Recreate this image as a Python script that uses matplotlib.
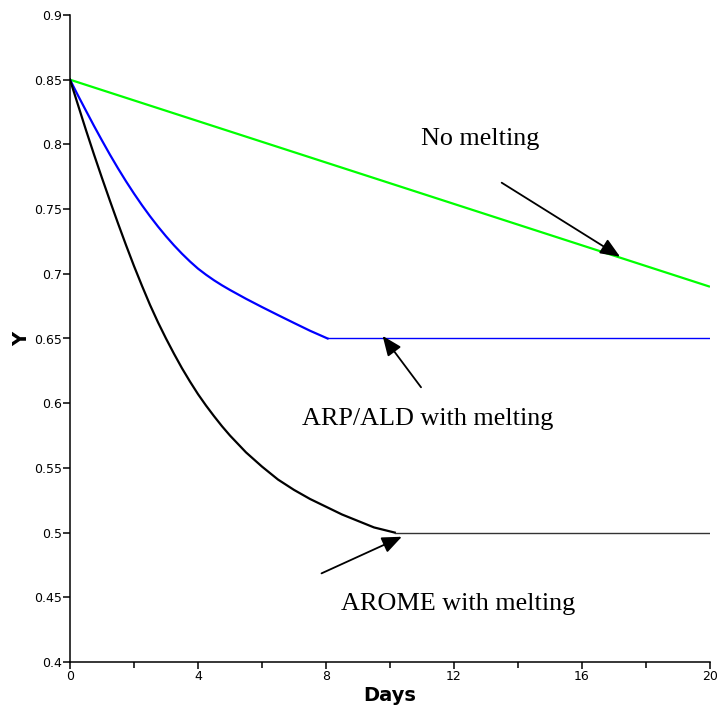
import matplotlib
matplotlib.use("Agg")
import matplotlib.pyplot as plt
from matplotlib.ticker import FixedLocator, FixedFormatter

# Surface albedo evolution over 20 days
days_no_melt = [0, 20]
y_no_melt = [0.85, 0.69]

days_arp = [0, 0.25, 0.5, 0.75, 1, 1.25, 1.5, 1.75, 2, 2.25, 2.5, 2.75, 3, 3.25,
            3.5, 3.75, 4, 4.25, 4.5, 4.75, 5, 5.5, 6, 6.5, 7, 7.5, 8.05, 20]
y_arp = [0.850, 0.8378, 0.826, 0.8143, 0.803, 0.7920, 0.7815, 0.7715, 0.762,
         0.7530, 0.7445, 0.7365, 0.729, 0.7220, 0.7155, 0.7095, 0.704, 0.6993,
         0.695, 0.6911, 0.6875, 0.6807, 0.6743, 0.6681, 0.662, 0.656, 0.650,
         0.650]

days_arome = [0, 0.25, 0.5, 0.75, 1, 1.25, 1.5, 1.75, 2, 2.25, 2.5, 2.75, 3,
              3.25, 3.5, 3.75, 4, 4.25, 4.5, 4.75, 5, 5.5, 6, 6.5, 7, 7.5, 8,
              8.5, 9, 9.5, 10.15, 20]
y_arome = [0.850, 0.8305, 0.811, 0.7922, 0.774, 0.7563, 0.739, 0.7222, 0.706,
           0.6907, 0.676, 0.6625, 0.650, 0.6382, 0.627, 0.6167, 0.607, 0.5982,
           0.590, 0.5822, 0.575, 0.562, 0.551, 0.541, 0.533, 0.526, 0.520,
           0.514, 0.509, 0.504, 0.500, 0.500]

x_ticks = [0, 4, 8, 12, 16, 20]
x_tick_labels = ["0", "4", "8", "12", "16", "20"]
x_minor = [2, 6, 10, 14, 18]
y_ticks = [0.4, 0.45, 0.5, 0.55, 0.6, 0.65, 0.7, 0.75, 0.8, 0.85, 0.9]
y_tick_labels = ["0.4", "0.45", "0.5", "0.55", "0.6", "0.65", "0.7", "0.75",
                 "0.8", "0.85", "0.9"]

fig = plt.figure(figsize=(7.21, 7.08), dpi=100)
ax = fig.add_axes([70 / 721, 1 - 662 / 708, 640 / 721, 647 / 708])

ax.plot(days_no_melt, y_no_melt, color="#00ff00", lw=1.6, solid_capstyle="butt")

# decaying part drawn heavier than the plateau
k = len(days_arp) - 2
ax.plot(days_arp[:k + 1], y_arp[:k + 1], color="#0000ff", lw=1.6)
ax.plot(days_arp[k:], y_arp[k:], color="#0000ff", lw=1.0)
k = len(days_arome) - 2
ax.plot(days_arome[:k + 1], y_arome[:k + 1], color="black", lw=1.6)
ax.plot(days_arome[k:], y_arome[k:], color="#333333", lw=1.0)

ax.set_xlim(0, 20)
ax.set_ylim(0.4, 0.9)
for s in ("top", "right"):
    ax.spines[s].set_visible(False)
for s in ("left", "bottom"):
    ax.spines[s].set_linewidth(1.1)

ax.xaxis.set_major_locator(FixedLocator(x_ticks))
ax.xaxis.set_major_formatter(FixedFormatter(x_tick_labels))
ax.xaxis.set_minor_locator(FixedLocator(x_minor))
ax.yaxis.set_major_locator(FixedLocator(y_ticks))
ax.yaxis.set_major_formatter(FixedFormatter(y_tick_labels))
ax.tick_params(axis="both", which="major", direction="out", length=5, width=1.1,
               labelsize=9, pad=1)
ax.tick_params(axis="x", which="minor", direction="out", length=4, width=1.1)

ax.set_xlabel("Days", fontsize=14, fontweight="bold", labelpad=2)
ax.set_ylabel("Y", fontsize=14, fontweight="bold", labelpad=2)

serif = ["Liberation Serif", "DejaVu Serif"]
arrow = dict(arrowstyle="-|>,head_length=1.2,head_width=0.5", color="black",
             lw=1.3, shrinkA=0, shrinkB=0)
ax.annotate("", xy=(17.19, 0.7132), xytext=(13.49, 0.7704), arrowprops=arrow)
ax.annotate("", xy=(9.77, 0.652), xytext=(10.97, 0.6123), arrowprops=arrow)
ax.annotate("", xy=(10.37, 0.4968), xytext=(7.86, 0.4685), arrowprops=arrow)

ax.text(12.83, 0.7995, "No melting", family=serif, fontsize=18.8,
        ha="center", va="baseline")
ax.text(11.17, 0.5832, "ARP/ALD with melting", family=serif, fontsize=18.8,
        ha="center", va="baseline")
ax.text(12.14, 0.4402, "AROME with melting", family=serif, fontsize=18.8,
        ha="center", va="baseline")

fig.savefig("out.png", dpi=100)
